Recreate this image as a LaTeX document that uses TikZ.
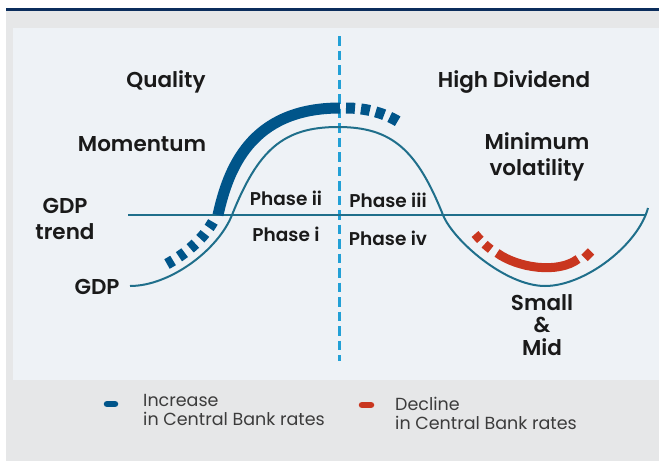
\documentclass[tikz,border=0pt]{standalone}
\usepackage{fontspec}
\setmainfont{Poppins}[BoldFont={* SemiBold}]
\usetikzlibrary{positioning}

\definecolor{navy}{HTML}{0B2D5C}
\definecolor{bggray}{HTML}{E6E7E8}
\definecolor{panel}{HTML}{EEF2F6}
\definecolor{gdpline}{HTML}{1F6F8B}
\definecolor{hike}{HTML}{00558A}
\definecolor{cut}{HTML}{C9361F}
\definecolor{divider}{HTML}{22A0D6}
\definecolor{ink}{HTML}{1A1A1A}

\begin{document}
\begin{tikzpicture}[x=1pt, y=-1pt,
      lbl/.style={font=\bfseries\fontsize{21.5}{26}\selectfont, text=ink,
                  align=center, inner sep=0pt},
      phase/.style={font=\bfseries\fontsize{18.5}{22}\selectfont, text=ink, inner sep=0pt},
      gdp/.style={draw=gdpline, line width=2pt},
      rise/.style={draw=hike, line width=11pt},
      fall/.style={draw=cut, line width=9pt},
      keytext/.style={font=\fontsize{17.5}{19}\selectfont, text=ink!85,
                      align=left, inner sep=0pt},
    ]
    % frame and panel
    \useasboundingbox (0,0) rectangle (659,461);
    \fill[bggray] (6,11) rectangle (659,461);
    \fill[panel] (13,28) rectangle (659,380);
    \draw[navy, line width=2.5pt] (6,9.5) -- (659,9.5);

    % divider between phases
    \draw[divider, line width=2.6pt, dash pattern=on 9.5pt off 5pt] (339.5,36) -- (339.5,361);

    % trend and GDP cycle
    \draw[gdp] (128,215) -- (646,215);
    \draw[gdp] (130,286) .. controls (170,286) and (218,250) .. (232,215)
               .. controls (258,150) and (283,127) .. (338,127)
               .. controls (392,127) and (417,150) .. (443,215)
               .. controls (453,240) and (505,286) .. (545,286)
               .. controls (585,286) and (638,245) .. (648,208);

    % rate hikes
    \draw[rise, dash pattern=on 7pt off 7pt] (167,264) .. controls (185,254) and (203,240) .. (214,220);
    \draw[rise] (218,215) .. controls (228,170) and (250,108) .. (340,108);
    \draw[rise, dash pattern=on 9pt off 6pt on 9pt off 6pt on 9pt off 6pt on 9pt off 40pt]
      (346,108) .. controls (366,108) and (386,113) .. (402,124);

    % rate cuts
    \draw[fall, dash pattern=on 8pt off 6pt on 8pt off 30pt]
      (475,234) .. controls (480,240) and (485,245) .. (491,249.5);
    \draw[fall] (497,253) .. controls (518,268) and (558,274) .. (578,259);
    \draw[fall] (584.5,258) -- (591,251.5);

    % factor labels
    \node[lbl] (quality)  at (166,82)  {Quality};
    \node[lbl] (highdiv)  at (514,82)  {High Dividend};
    \node[lbl] (momentum) at (142,144) {Momentum};
    \node[lbl] (minvol)   at (537,157) {Minimum\\volatility};
    \node[lbl] (trend)    at (65,219)  {GDP\\trend};
    \node[lbl] (gdp)      at (97,287)  {GDP};
    \node[lbl, font=\bfseries\fontsize{21.5}{22.5}\selectfont] (smallmid) at (542,325) {Small\\\&\\Mid};

    \node[phase] (ph2) at (286,198) {Phase ii};
    \node[phase] (ph1) at (286,234) {Phase i};
    \node[phase] (ph3) at (388,200) {Phase iii};
    \node[phase] (ph4) at (388,238) {Phase iv};

    % legend
    \draw[hike, line width=6.5pt, line cap=round] (107,404) coordinate (upkey) -- (115,404);
    \draw[cut, line width=6.5pt, line cap=round] (362,405) coordinate (downkey) -- (371,405);
    \node[keytext, anchor=west] (uptext)   at (143,410) {Increase\\in Central Bank rates};
    \node[keytext, anchor=west] (downtext) at (395,413.5) {Decline\\in Central Bank rates};
  \end{tikzpicture}
\end{document}
